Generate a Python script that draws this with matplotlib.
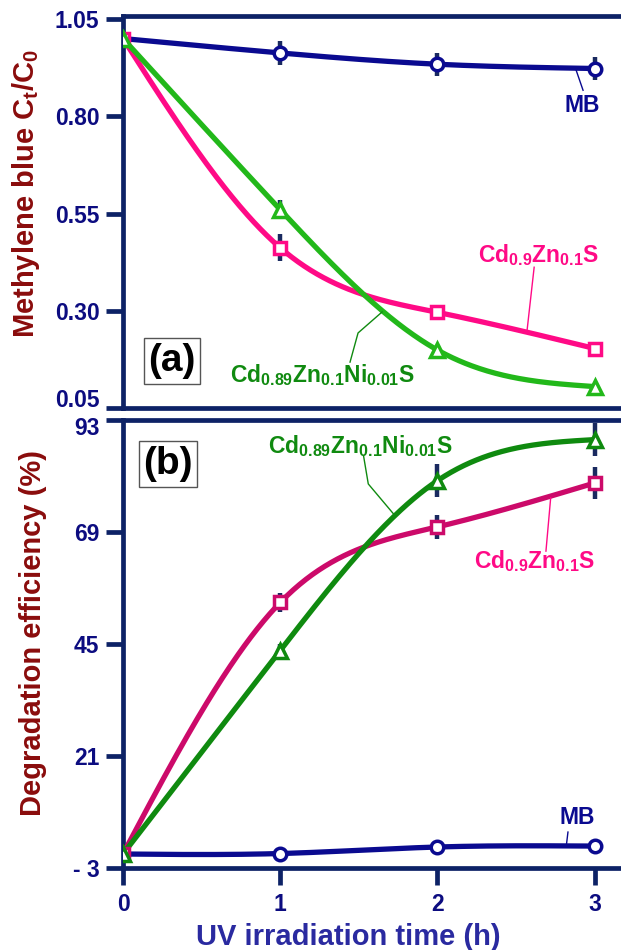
import numpy as np
import matplotlib
matplotlib.use("Agg")
import matplotlib.pyplot as plt
from matplotlib.transforms import ScaledTranslation

# data
hours = [0, 1, 2, 3]

ratio_mb = [1.00, 0.963, 0.934, 0.923]
ratio_czs = [1.00, 0.462, 0.296, 0.203]
ratio_czns = [1.00, 0.560, 0.199, 0.105]
err_ratio_mb = [0.0, 0.03, 0.03, 0.03]
err_ratio_czs = [0.0, 0.035, 0.02, 0.01]
err_ratio_czns = [0.0, 0.025, 0.0, 0.0]

deg_mb = [0.0, 0.1, 1.5, 1.7]
deg_czs = [0.0, 53.9, 70.1, 79.5]
deg_czns = [0.0, 43.6, 80.0, 88.8]
err_deg_czs = [0.0, 2.0, 2.5, 3.5]
err_deg_czns = [0.0, 1.5, 3.5, 3.5]

ratio_ticks = [0.05, 0.30, 0.55, 0.80, 1.05]
deg_ticks = [-3, 21, 45, 69, 93]
deg_ticklabels = ["- 3", "21", "45", "69", "93"]

LBL_MB = "MB"
LBL_CZS = r"Cd$_{0.9}$Zn$_{0.1}$S"
LBL_CZNS = r"Cd$_{0.89}$Zn$_{0.1}$Ni$_{0.01}$S"

# colours
SPINE = "#0d2266"
TICKTXT = "#0c0c80"
NAVY = "#0a0a90"
ERRC = "#1a2a60"
PINK_A = "#ff0a86"
PINK_B = "#cc0a6a"
GREEN_A = "#22b81a"
GREEN_B = "#0f8a0f"
LBL_GREEN = "#108a10"
MAROON = "#8a0c0c"
XLBL = "#2a2aa0"

plt.rcParams.update({
    "font.family": "Liberation Sans",
    "font.weight": "bold",
    "mathtext.fontset": "custom",
    "mathtext.rm": "Liberation Sans:bold",
    "mathtext.it": "Liberation Sans:bold",
    "mathtext.bf": "Liberation Sans:bold",
})


def _smooth(x, y, n=300):
    """natural cubic spline through the points, for drawing only"""
    x = np.asarray(x, float)
    y = np.asarray(y, float)
    m = len(x)
    h = np.diff(x)
    A = np.zeros((m, m))
    r = np.zeros(m)
    A[0, 0] = A[-1, -1] = 1.0
    for i in range(1, m - 1):
        A[i, i - 1] = h[i - 1]
        A[i, i] = 2 * (h[i - 1] + h[i])
        A[i, i + 1] = h[i]
        r[i] = 6 * ((y[i + 1] - y[i]) / h[i] - (y[i] - y[i - 1]) / h[i - 1])
    M = np.linalg.solve(A, r)
    xs = np.linspace(x[0], x[-1], n)
    k = np.clip(np.searchsorted(x, xs) - 1, 0, m - 2)
    hh = x[k + 1] - x[k]
    a = (x[k + 1] - xs) / hh
    b = (xs - x[k]) / hh
    ys = a * y[k] + b * y[k + 1] + ((a**3 - a) * M[k] + (b**3 - b) * M[k + 1]) * hh**2 / 6
    return xs, ys


def _series(ax, y, err, color, marker, ms):
    if err is not None and any(err):
        ax.errorbar(hours, y, yerr=err, fmt="none", ecolor=ERRC, elinewidth=3.2,
                    capsize=0, zorder=2)
    xs, ys = _smooth(hours, y)
    ax.plot(xs, ys, color=color, lw=3.8, zorder=3, solid_capstyle="round")
    ax.plot(hours, y, ls="none", marker=marker, ms=ms, mfc="white", mec=color,
            mew=2.5, zorder=4)


def _leader(ax, pts, color):
    ax.plot([p[0] for p in pts], [p[1] for p in pts], color=color, lw=1.0,
            zorder=3, clip_on=False)


def _nudge(label, dy_pt):
    label.set_transform(label.get_transform() +
                        ScaledTranslation(0, dy_pt / 72, fig.dpi_scale_trans))


def _style(ax):
    for s in ax.spines.values():
        s.set_color(SPINE)
        s.set_linewidth(3.4)
    ax.tick_params(axis="y", direction="out", length=12, width=3.4, color=SPINE,
                   labelcolor=TICKTXT, labelsize=16.5, pad=5)
    ax.set_xlim(0, 3.25)


fig = plt.figure(figsize=(6.21, 9.5), dpi=100)
W = 511 / 621
ax1 = fig.add_axes([123 / 621, 1 - 408 / 950, W, 392 / 950])
ax2 = fig.add_axes([123 / 621, 1 - 868 / 950, W, 448 / 950])

# (a) normalised concentration
_style(ax1)
_series(ax1, ratio_mb, err_ratio_mb, NAVY, "o", 9)
_series(ax1, ratio_czs, err_ratio_czs, PINK_A, "s", 9)
_series(ax1, ratio_czns, err_ratio_czns, GREEN_A, "^", 10)
ax1.set_ylim(0.05, 1.058)
ax1.set_yticks(ratio_ticks)
ax1.set_yticklabels([f"{t:.2f}" for t in ratio_ticks])
ax1.tick_params(axis="x", bottom=False, labelbottom=False)
ax1.set_ylabel(r"Methylene blue C$_t$/C$_0$", color=MAROON, fontsize=21,
               fontweight="bold", va="center")
ax1.yaxis.set_label_coords(-0.19, 0.548)

ax1.text(2.92, 0.829, LBL_MB, color=NAVY, fontsize=16.5, ha="center", va="center")
_leader(ax1, [(2.926, 0.867), (2.88, 0.921)], NAVY)
ax1.text(2.64, 0.443, LBL_CZS, color=PINK_A, fontsize=16.5, ha="center", va="center")
_leader(ax1, [(2.615, 0.412), (2.57, 0.25)], PINK_A)
ax1.text(1.27, 0.135, LBL_CZNS, color=LBL_GREEN, fontsize=16.5, ha="center", va="center")
_leader(ax1, [(1.444, 0.168), (1.495, 0.243), (1.648, 0.297)], LBL_GREEN)
ax1.text(0.096, 0.12, "(a)", transform=ax1.transAxes, fontsize=28, ha="center",
         va="center", color="black",
         bbox=dict(boxstyle="square,pad=0.12", fc="white", ec="#555555", lw=1.0))

# (b) degradation efficiency
_style(ax2)
_series(ax2, deg_mb, None, NAVY, "o", 9)
_series(ax2, deg_czs, err_deg_czs, PINK_B, "s", 9)
_series(ax2, deg_czns, err_deg_czns, GREEN_B, "^", 10)
ax2.set_ylim(-3, 93)
ax2.set_yticks(deg_ticks)
ax2.set_yticklabels(deg_ticklabels)
ax2.set_xticks(hours)
ax2.tick_params(axis="x", direction="out", length=12, width=3.4, color=SPINE,
                labelcolor=TICKTXT, labelsize=16.5, pad=6)
ax2.set_ylabel("Degradation efficiency (%)", color=MAROON, fontsize=21,
               fontweight="bold", va="center")
ax2.yaxis.set_label_coords(-0.176, 0.525)
ax2.set_xlabel("UV irradiation time (h)", color=XLBL, fontsize=21,
               fontweight="bold", va="center")
ax2.xaxis.set_label_coords(0.44, -0.154)

# the two panels meet: keep "0.05" and "93" apart
_nudge(ax1.get_yticklabels()[0], 7)
_nudge(ax2.get_yticklabels()[-1], -4)

ax2.text(1.51, 87.4, LBL_CZNS, color=LBL_GREEN, fontsize=16.5, ha="center", va="center")
_leader(ax2, [(1.53, 85.3), (1.56, 79.3), (1.72, 72.9)], LBL_GREEN)
ax2.text(2.62, 62.8, LBL_CZS, color=PINK_A, fontsize=16.5, ha="center", va="center")
_leader(ax2, [(2.69, 64.9), (2.72, 76.3)], PINK_A)
ax2.text(2.89, 7.9, LBL_MB, color=NAVY, fontsize=16.5, ha="center", va="center")
_leader(ax2, [(2.83, 4.7), (2.82, 1.9)], NAVY)
ax2.text(0.088, 0.902, "(b)", transform=ax2.transAxes, fontsize=28, ha="center",
         va="center", color="black",
         bbox=dict(boxstyle="square,pad=0.12", fc="white", ec="#555555", lw=1.0))

fig.savefig("out.png", dpi=100, facecolor="white")
